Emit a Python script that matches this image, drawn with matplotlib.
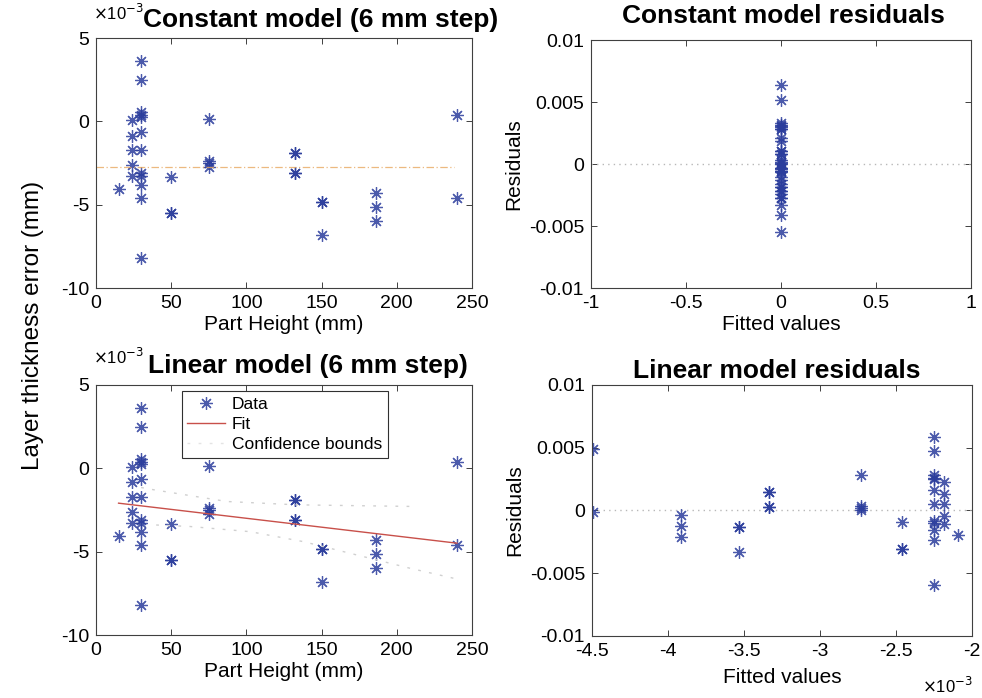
import numpy as np
import matplotlib.pyplot as plt

plt.rcParams['font.family'] = ['Liberation Sans', 'DejaVu Sans']
plt.rcParams['axes.unicode_minus'] = False

# part height (mm) and layer thickness error (units of 1e-3 mm)
part_height = [15,
               24, 24, 24, 24, 24,
               30, 30, 30, 30, 30, 30, 30, 30, 30, 30, 30, 30,
               50, 50, 50,
               75, 75, 75, 75,
               132, 132, 132, 132,
               150, 150, 150,
               186, 186, 186,
               240, 240]
thickness_err = [-4.05,
                 0.1, -0.85, -1.7, -2.6, -3.3,
                 3.62, 2.46, 0.56, 0.36, 0.24, -0.64, -1.7, -3.12, -3.28, -3.8, -4.6, -8.2,
                 -3.34, -5.5, -5.5,
                 0.12, -2.38, -2.52, -2.72,
                 -1.9, -1.9, -3.08, -3.08,
                 -4.86, -4.86, -6.84,
                 -4.3, -5.12, -6.0,
                 0.4, -4.6]

# fitted models (1e-3 mm)
const_mean = -2.72
const_span = [0, 238]
fit_intercept = -1.93
fit_slope = -0.01067
fit_span = [15, 240]

# confidence bounds (faint dotted lines)
upper_x = [30, 38, 87, 133.5, 213]
upper_y = [-1.15, -1.28, -1.99, -2.19, -2.29]
lower_x = [40, 62.5, 102.5, 138, 173.5, 209, 238]
lower_y = [-3.4, -3.49, -3.8, -4.4, -5.2, -6.0, -6.6]

x = np.array(part_height)
y = np.array(thickness_err)
fitted_lin = fit_intercept + fit_slope * x
resid_lin = (y - fitted_lin) * 1e-3
resid_const = (y - const_mean) * 1e-3

mcol = '#2b3d9c'
mk = (8, 2, 0)
TS = 19
W, H = 982, 698
fig = plt.figure(figsize=(W / 100, H / 100), dpi=100)


def box(l, t, r, b):
    return fig.add_axes([l / W, 1 - b / H, (r - l) / W, (b - t) / H])


def style(ax):
    for s in ax.spines.values():
        s.set_color('#404040')
        s.set_linewidth(0.8)
    ax.tick_params(direction='in', top=True, right=True, length=4,
                   width=0.7, color='#404040', labelsize=14, pad=5)


def scatter(ax, xs, ys):
    ax.plot(xs, ys, linestyle='none', marker=mk, ms=9, mew=0.9,
            color=mcol, alpha=0.85)


# top left: constant model
ax1 = box(96, 38, 472, 288)
scatter(ax1, x, y)
ax1.plot(const_span, [const_mean, const_mean], color='#e8a860', lw=0.9,
         ls=(0, (6, 2, 1, 2)), alpha=0.8)
ax1.set_xlim(0, 250)
ax1.set_ylim(-10, 5)
ax1.set_xticks([0, 50, 100, 150, 200, 250])
ax1.set_yticks([-10, -5, 0, 5])
ax1.set_xlabel('Part Height (mm)', fontsize=15, labelpad=2)
style(ax1)
fig.text(321 / W, 1 - 27 / H, 'Constant model (6 mm step)', ha='center',
         va='baseline', fontsize=TS, fontweight='bold')
fig.text(93 / W, 1 - 20 / H, r'$\times$10$^{-3}$', ha='left', va='baseline',
         fontsize=12)

# bottom left: linear model
ax2 = box(96, 385, 472, 635)
scatter(ax2, x, y)
ax2.plot(fit_span, [fit_intercept + fit_slope * v for v in fit_span],
         color='#c8504a', lw=1.0)
ax2.plot(upper_x, upper_y, color='#d0d0d0', lw=1.0, ls=(0, (2, 6)))
ax2.plot(lower_x, lower_y, color='#d0d0d0', lw=1.0, ls=(0, (2, 6)))
ax2.set_xlim(0, 250)
ax2.set_ylim(-10, 5)
ax2.set_xticks([0, 50, 100, 150, 200, 250])
ax2.set_yticks([-10, -5, 0, 5])
ax2.set_xlabel('Part Height (mm)', fontsize=15, labelpad=2)
style(ax2)
h_data, = ax2.plot([], [], linestyle='none', marker=mk, ms=9, mew=0.9,
                   color=mcol, alpha=0.85)
h_fit, = ax2.plot([], [], color='#c8504a', lw=1.0)
h_cb, = ax2.plot([], [], color='#e4e4e4', lw=1.0, ls=(0, (2, 6)))
leg = ax2.legend([h_data, h_fit, h_cb], ['Data', 'Fit', 'Confidence bounds'],
                 loc='upper left', bbox_to_anchor=(0.228, 0.975),
                 fontsize=12.5, fancybox=False, framealpha=1,
                 edgecolor='#303030', borderpad=0.3, labelspacing=0.3,
                 handlelength=2.2, handletextpad=0.4, borderaxespad=0)
leg.get_frame().set_linewidth(0.8)
fig.text(308 / W, 1 - 373 / H, 'Linear model (6 mm step)', ha='center',
         va='baseline', fontsize=TS, fontweight='bold')
fig.text(93 / W, 1 - 364 / H, r'$\times$10$^{-3}$', ha='left', va='baseline',
         fontsize=12)

fig.text(33 / W, 1 - 325 / H, 'Layer thickness error (mm)', rotation=90,
         ha='center', va='center', fontsize=17.5)

res_ticks = [-0.01, -0.005, 0, 0.005, 0.01]
res_labels = ['-0.01', '-0.005', '0', '0.005', '0.01']

# top right: constant residuals
ax3 = box(591, 40, 971, 288)
ax3.plot([-1, 1], [0, 0], color='#b8b8b8', lw=1.0, ls=(0, (1, 3)))
scatter(ax3, np.zeros(len(resid_const)), resid_const)
ax3.set_xlim(-1, 1)
ax3.set_ylim(-0.01, 0.01)
ax3.set_xticks([-1, -0.5, 0, 0.5, 1])
ax3.set_xticklabels(['-1', '-0.5', '0', '0.5', '1'])
ax3.set_yticks(res_ticks)
ax3.set_yticklabels(res_labels)
ax3.set_xlabel('Fitted values', fontsize=15, labelpad=2)
ax3.set_ylabel('Residuals', fontsize=15, labelpad=4)
style(ax3)
fig.text(783 / W, 1 - 23 / H, 'Constant model residuals', ha='center',
         va='baseline', fontsize=TS, fontweight='bold')

# bottom right: linear residuals
ax4 = box(592, 385, 972, 636)
ax4.plot([-4.5, -2], [0, 0], color='#b8b8b8', lw=1.0, ls=(0, (1, 3)))
scatter(ax4, fitted_lin, resid_lin)
ax4.set_xlim(-4.5, -2)
ax4.set_ylim(-0.01, 0.01)
ax4.set_xticks([-4.5, -4, -3.5, -3, -2.5, -2])
ax4.set_xticklabels(['-4.5', '-4', '-3.5', '-3', '-2.5', '-2'])
ax4.set_yticks(res_ticks)
ax4.set_yticklabels(res_labels)
ax4.set_xlabel('Fitted values', fontsize=15, labelpad=6)
ax4.set_ylabel('Residuals', fontsize=15, labelpad=4)
style(ax4)
fig.text(777 / W, 1 - 378 / H, 'Linear model residuals', ha='center',
         va='baseline', fontsize=TS, fontweight='bold')
fig.text(922 / W, 1 - 693 / H, r'$\times$10$^{-3}$', ha='left',
         va='baseline', fontsize=12)

fig.savefig('out.png', dpi=100)
